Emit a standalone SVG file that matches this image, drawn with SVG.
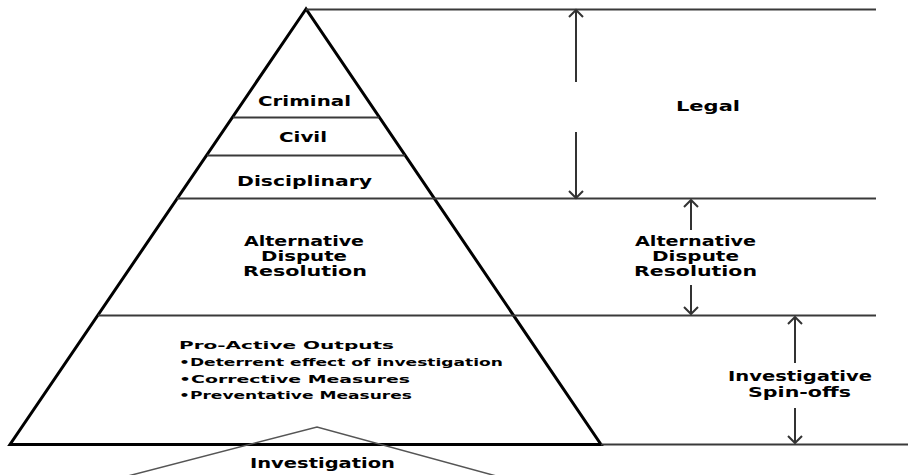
<svg xmlns="http://www.w3.org/2000/svg" width="908" height="475" viewBox="0 0 908 475">
<style>
  .lbl { font-family: "DejaVu Sans", "Liberation Sans", Arial, sans-serif; font-weight: bold; fill: #000; }
  .l14 { font-size: 13.5px; }
  .l15 { font-size: 14.5px; }
  .l11 { font-size: 11px; }
  .rule { stroke: #3a3a3a; stroke-width: 2; fill: none; }
  .arr { stroke: #333; stroke-width: 2; fill: none; marker-end: url(#chev); }
  .pyr { stroke: #000; stroke-width: 3; fill: #fff; stroke-linejoin: miter; }
  .inv { stroke: #555; stroke-width: 1.5; fill: none; }
</style>
<defs>
  <marker id="chev" markerUnits="userSpaceOnUse" markerWidth="20" markerHeight="20" viewBox="-10 -10 20 20" refX="0" refY="0" orient="auto">
    <path d="M -7 -7 L 0 0 L -7 7" stroke="#333" stroke-width="2" fill="none"/>
  </marker>
</defs>
<rect width="908" height="475" fill="#fff"/>

<g id="pyramid">
  <polygon class="pyr" points="306,9 10,444.5 601,444.5"/>
</g>

<g id="rules">
  <line class="rule" x1="306" y1="9.5" x2="876" y2="9.5"/>
  <line class="rule" x1="233" y1="117.5" x2="379" y2="117.5"/>
  <line class="rule" x1="207" y1="155.5" x2="405" y2="155.5"/>
  <line class="rule" x1="177" y1="198.5" x2="876" y2="198.5"/>
  <line class="rule" x1="98" y1="315.5" x2="876" y2="315.5"/>
  <line class="rule" x1="601" y1="444.5" x2="908" y2="444.5"/>
</g>

<g id="connectors">
  <line class="arr" x1="576" y1="82" x2="576" y2="10"/>
  <line class="arr" x1="576" y1="132" x2="576" y2="198"/>
  <line class="arr" x1="691" y1="230" x2="691" y2="200"/>
  <line class="arr" x1="691" y1="285" x2="691" y2="314"/>
  <line class="arr" x1="795" y1="363" x2="795" y2="317"/>
  <line class="arr" x1="795" y1="408" x2="795" y2="443"/>
</g>

<g id="investigation-shape">
  <polyline class="inv" points="124,477 317,427 500,477"/>
</g>

<g id="node-criminal">
  <text class="lbl l15" x="304.5" y="106" text-anchor="middle" textLength="93" lengthAdjust="spacingAndGlyphs">Criminal</text>
</g>
<g id="node-civil">
  <text class="lbl l14" x="303" y="141.5" text-anchor="middle" textLength="48" lengthAdjust="spacingAndGlyphs">Civil</text>
</g>
<g id="node-disciplinary">
  <text class="lbl l14" x="304.5" y="186" text-anchor="middle" textLength="135" lengthAdjust="spacingAndGlyphs">Disciplinary</text>
</g>
<g id="node-adr">
  <text class="lbl l14" x="304" y="246" text-anchor="middle" textLength="120" lengthAdjust="spacingAndGlyphs">Alternative</text>
  <text class="lbl l14" x="304" y="260.5" text-anchor="middle" textLength="86" lengthAdjust="spacingAndGlyphs">Dispute</text>
  <text class="lbl l14" x="305" y="275.5" text-anchor="middle" textLength="124" lengthAdjust="spacingAndGlyphs">Resolution</text>
</g>
<g id="node-proactive">
  <text class="lbl l11" x="179" y="349" textLength="215" lengthAdjust="spacingAndGlyphs">Pro-Active Outputs</text>
  <text class="lbl l11" x="179" y="366" textLength="324" lengthAdjust="spacingAndGlyphs">•Deterrent effect of investigation</text>
  <text class="lbl l11" x="179" y="383" textLength="231" lengthAdjust="spacingAndGlyphs">•Corrective Measures</text>
  <text class="lbl l11" x="179" y="398.5" textLength="233" lengthAdjust="spacingAndGlyphs">•Preventative Measures</text>
</g>
<g id="node-investigation">
  <text class="lbl l15" x="322.5" y="467.5" text-anchor="middle" textLength="145" lengthAdjust="spacingAndGlyphs">Investigation</text>
</g>

<g id="node-legal">
  <text class="lbl l14" x="708" y="111" text-anchor="middle" textLength="64" lengthAdjust="spacingAndGlyphs">Legal</text>
</g>
<g id="node-adr-right">
  <text class="lbl l14" x="695.5" y="246" text-anchor="middle" textLength="121" lengthAdjust="spacingAndGlyphs">Alternative</text>
  <text class="lbl l14" x="695.5" y="260.5" text-anchor="middle" textLength="87" lengthAdjust="spacingAndGlyphs">Dispute</text>
  <text class="lbl l14" x="695.5" y="276" text-anchor="middle" textLength="123" lengthAdjust="spacingAndGlyphs">Resolution</text>
</g>
<g id="node-spinoffs">
  <text class="lbl l15" x="800" y="381" text-anchor="middle" textLength="144" lengthAdjust="spacingAndGlyphs">Investigative</text>
  <text class="lbl l15" x="799.5" y="396.5" text-anchor="middle" textLength="103" lengthAdjust="spacingAndGlyphs">Spin-offs</text>
</g>
</svg>
